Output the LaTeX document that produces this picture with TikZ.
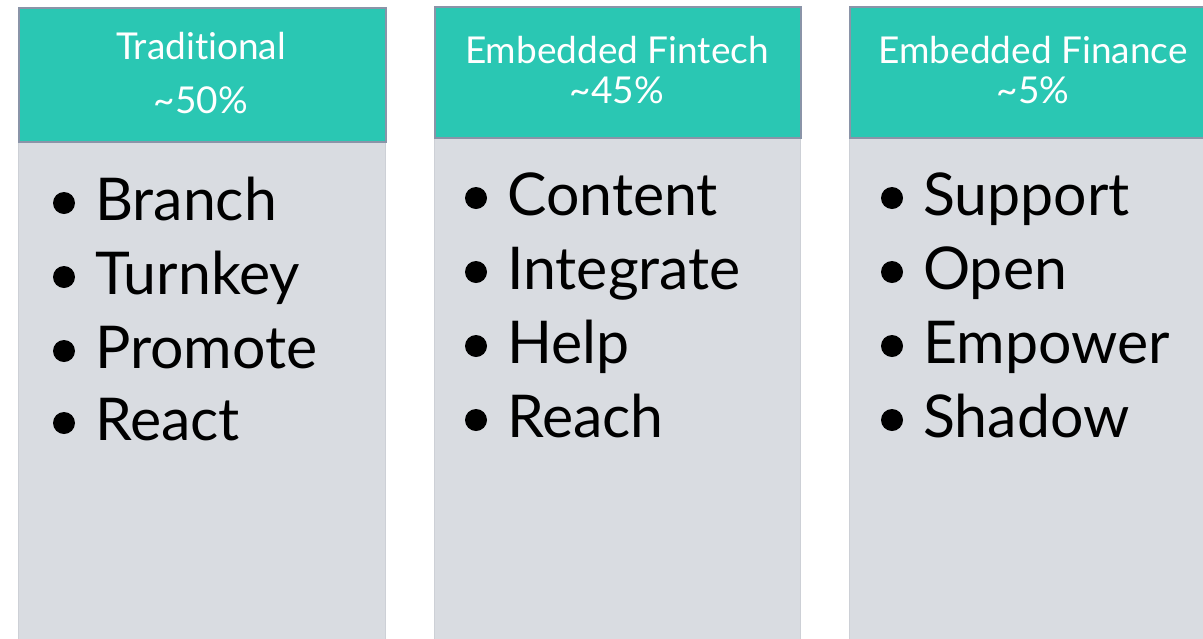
\documentclass[tikz,border=0pt]{standalone}
\usepackage{fontspec}
\setmainfont[Ligatures={NoCommon}]{Lato}
\usetikzlibrary{positioning}
\definecolor{headfill}{RGB}{42,199,179}
\definecolor{headedge}{RGB}{138,148,168}
\definecolor{bodyfill}{RGB}{217,220,225}
\definecolor{bodyedge}{RGB}{205,208,214}
\newcommand{\headfont}{\fontsize{37}{42}\selectfont}
\newcommand{\itemfont}{\fontsize{59}{70}\selectfont}
\newcommand{\listitem}[4]{%
  \node[item] (#1) at (#2,#3) {#4};
  \node[dot] (#1dot) at ([xshift=-31pt,yshift=17pt]#1.base west) {};}
\tikzstyle{head} = [draw=headedge, line width=1.5pt, fill=headfill, anchor=north west, inner sep=0pt]
\tikzstyle{body} = [draw=bodyedge, line width=0.8pt, fill=bodyfill, anchor=north west, inner sep=0pt]
\tikzstyle{title} = [text=white, font=\headfont, anchor=base, inner sep=0pt]
\tikzstyle{item} = [font=\itemfont, anchor=base west, inner sep=0pt]
\tikzstyle{dot} = [circle, fill=black, minimum size=22pt, inner sep=0pt]

\begin{document}
\begin{tikzpicture}[x=1pt, y=-1pt]
  \useasboundingbox (0,0) rectangle (1203,638);
  % traditional
  \node[body, minimum width=367pt, minimum height=500pt] (b1) at (18,141) {};
  \node[head, minimum width=367pt, minimum height=134pt] (h1) at (18,7) {};
  \node[title] (t1) at (201,59) {Traditional};
  \node[title] (p1) at (201,113) {\textasciitilde50\%};
  \listitem{b1a}{95}{220}{Branch}
  \listitem{b1b}{95}{294}{Turnkey}
  \listitem{b1c}{95}{368}{Promote}
  \listitem{b1d}{95}{440}{React}
  % embedded fintech
  \node[body, minimum width=366pt, minimum height=503pt] (b2) at (434,137) {};
  \node[head, minimum width=366pt, minimum height=131pt] (h2) at (434,6) {};
  \node[title] (t2) at (617,63) {Embedded Fintech};
  \node[title] (p2) at (617,103) {\textasciitilde45\%};
  \listitem{b2a}{507}{215}{Content}
  \listitem{b2b}{507}{289}{Integrate}
  \listitem{b2c}{507}{363}{Help}
  \listitem{b2d}{507}{437}{Reach}
  % embedded finance
  \node[body, minimum width=370pt, minimum height=503pt] (b3) at (849,137) {};
  \node[head, minimum width=370pt, minimum height=131pt] (h3) at (849,6) {};
  \node[title] (t3) at (1033,63) {Embedded Finance};
  \node[title] (p3) at (1033,103) {\textasciitilde5\%};
  \listitem{b3a}{923}{215}{Support}
  \listitem{b3b}{923}{289}{Open}
  \listitem{b3c}{923}{363}{Empower}
  \listitem{b3d}{923}{437}{Shadow}
\end{tikzpicture}
\end{document}
